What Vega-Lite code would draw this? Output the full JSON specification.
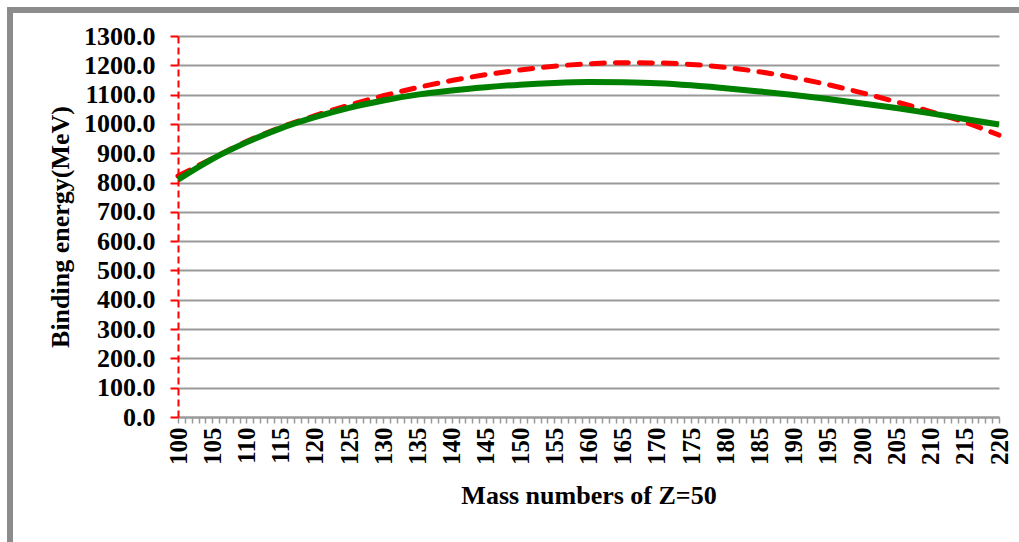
{
  "$schema": "https://vega.github.io/schema/vega-lite/v6.json",
  "autosize": {"type": "none"},
  "width": 821,
  "height": 381,
  "padding": {"left": 178, "top": 36, "right": 20, "bottom": 125},
  "background": "white",
  "config": {
    "view": {"stroke": null},
    "font": "Liberation Serif",
    "axis": {"labelFont": "Liberation Serif", "titleFont": "Liberation Serif", "labelFontWeight": "bold", "titleFontWeight": "bold", "labelColor": "black", "titleColor": "black"}
  },
  "data": {
    "values": [
      {"A": 100, "model": "green", "B": 810}, {"A": 105, "model": "green", "B": 880}, {"A": 110, "model": "green", "B": 937},
      {"A": 115, "model": "green", "B": 985}, {"A": 120, "model": "green", "B": 1023}, {"A": 125, "model": "green", "B": 1055},
      {"A": 130, "model": "green", "B": 1080}, {"A": 135, "model": "green", "B": 1100}, {"A": 140, "model": "green", "B": 1114},
      {"A": 145, "model": "green", "B": 1125}, {"A": 150, "model": "green", "B": 1134}, {"A": 155, "model": "green", "B": 1140},
      {"A": 160, "model": "green", "B": 1143}, {"A": 165, "model": "green", "B": 1142}, {"A": 170, "model": "green", "B": 1139},
      {"A": 175, "model": "green", "B": 1132}, {"A": 180, "model": "green", "B": 1122}, {"A": 185, "model": "green", "B": 1111},
      {"A": 190, "model": "green", "B": 1099}, {"A": 195, "model": "green", "B": 1085}, {"A": 200, "model": "green", "B": 1070},
      {"A": 205, "model": "green", "B": 1054}, {"A": 210, "model": "green", "B": 1036}, {"A": 215, "model": "green", "B": 1017},
      {"A": 220, "model": "green", "B": 998},
      {"A": 100, "model": "red", "B": 822}, {"A": 105, "model": "red", "B": 882}, {"A": 110, "model": "red", "B": 940},
      {"A": 115, "model": "red", "B": 988}, {"A": 120, "model": "red", "B": 1028}, {"A": 125, "model": "red", "B": 1064},
      {"A": 130, "model": "red", "B": 1096}, {"A": 135, "model": "red", "B": 1124}, {"A": 140, "model": "red", "B": 1148},
      {"A": 145, "model": "red", "B": 1168}, {"A": 150, "model": "red", "B": 1184}, {"A": 155, "model": "red", "B": 1197},
      {"A": 160, "model": "red", "B": 1205}, {"A": 165, "model": "red", "B": 1209}, {"A": 170, "model": "red", "B": 1208},
      {"A": 175, "model": "red", "B": 1203}, {"A": 180, "model": "red", "B": 1193}, {"A": 185, "model": "red", "B": 1178},
      {"A": 190, "model": "red", "B": 1158}, {"A": 195, "model": "red", "B": 1134}, {"A": 200, "model": "red", "B": 1106},
      {"A": 205, "model": "red", "B": 1075}, {"A": 210, "model": "red", "B": 1042}, {"A": 215, "model": "red", "B": 1006},
      {"A": 220, "model": "red", "B": 962}
    ]
  },
  "encoding": {
    "x": {
      "field": "A", "type": "quantitative",
      "scale": {"domain": [100, 220], "nice": false, "zero": false},
      "axis": {
        "title": "Mass numbers of Z=50",
        "titleFontSize": 26,
        "titlePadding": 18,
        "values": [100,101,102,103,104,105,106,107,108,109,110,111,112,113,114,115,116,117,118,119,120,121,122,123,124,125,126,127,128,129,130,131,132,133,134,135,136,137,138,139,140,141,142,143,144,145,146,147,148,149,150,151,152,153,154,155,156,157,158,159,160,161,162,163,164,165,166,167,168,169,170,171,172,173,174,175,176,177,178,179,180,181,182,183,184,185,186,187,188,189,190,191,192,193,194,195,196,197,198,199,200,201,202,203,204,205,206,207,208,209,210,211,212,213,214,215,216,217,218,219,220],
        "labelExpr": "datum.value % 5 === 0 ? datum.label : ''",
        "labelAngle": 270,
        "labelAlign": "right",
        "labelBaseline": "middle",
        "labelFontSize": 25,
        "labelPadding": 4,
        "labelOverlap": false,
        "labelFlush": false,
        "grid": false,
        "domainColor": "#999999",
        "domainWidth": 2,
        "tickColor": "#999999",
        "tickWidth": 1.5,
        "tickSize": 6
      }
    },
    "y": {
      "field": "B", "type": "quantitative",
      "scale": {"domain": [0, 1300], "nice": false},
      "axis": {
        "title": "Binding energy(MeV)",
        "titleFontSize": 26,
        "titlePadding": 10,
        "values": [0,100,200,300,400,500,600,700,800,900,1000,1100,1200,1300],
        "format": ".1f",
        "labelFontSize": 26,
        "labelPadding": 15,
        "grid": true,
        "gridColor": "#999999",
        "gridWidth": 2,
        "domainColor": "#ff0000",
        "domainWidth": 2,
        "domainDash": [7, 4],
        "tickColor": "#ff0000",
        "tickWidth": 2,
        "tickSize": 8
      }
    }
  },
  "layer": [
    {
      "mark": {"type": "rect", "filled": false, "stroke": "#8c8c8c", "strokeWidth": 5, "clip": false},
      "encoding": {
        "x": {"datum": 75.44},
        "x2": {"datum": 224},
        "y": {"datum": 1388},
        "y2": {"datum": -490}
      }
    },
    {
      "transform": [{"filter": "datum.model === 'red'"}],
      "mark": {"type": "line", "color": "#ff0000", "strokeWidth": 5, "strokeDash": [13, 11], "strokeCap": "round", "interpolate": "monotone"}
    },
    {
      "transform": [{"filter": "datum.model === 'green'"}],
      "mark": {"type": "line", "color": "#008000", "strokeWidth": 6, "interpolate": "monotone"}
    }
  ]
}
